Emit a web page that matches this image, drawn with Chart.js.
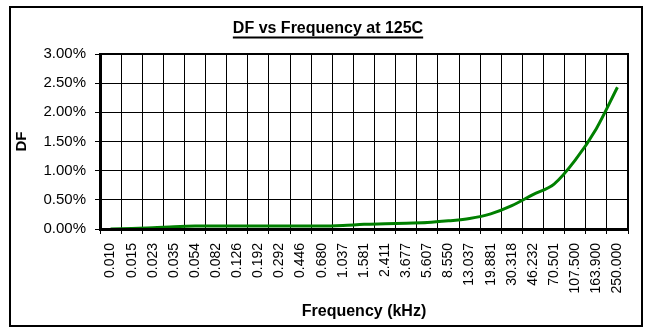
<!DOCTYPE html>
<html lang="en">
<head>
    <meta charset="UTF-8">
    <title>DF vs Frequency at 125C</title>
    <script src="https://cdn.jsdelivr.net/npm/chart.js"></script>
    <style>
        html, body { margin: 0; padding: 0; background: #fff; }
        canvas { display: block; }
    </style>
</head>
<body>
    <canvas id="grafico" width="645" height="329"></canvas>

    <script>
        // Frequency points (kHz), used as category labels
        const frequencies = ['0.010', '0.015', '0.023', '0.035', '0.054', '0.082', '0.126', '0.192',
            '0.292', '0.446', '0.680', '1.037', '1.581', '2.411', '3.677', '5.607', '8.550',
            '13.037', '19.881', '30.318', '46.232', '70.501', '107.500', '163.900', '250.000'];

        // Dissipation factor in %
        const dfValues = [0.00, 0.01, 0.02, 0.04, 0.05, 0.05, 0.05, 0.05,
            0.05, 0.05, 0.05, 0.06, 0.08, 0.09, 0.10, 0.11, 0.14,
            0.18, 0.26, 0.40, 0.59, 0.77, 1.18, 1.72, 2.43];

        // Y axis ticks (%)
        const yTickValues = [0, 0.5, 1.0, 1.5, 2.0, 2.5, 3.0];

        const chartTitle = 'DF vs Frequency at 125C';
        const fontFamily = '"Liberation Sans", Arial, sans-serif';

        Chart.defaults.color = '#000';
        Chart.defaults.font.family = fontFamily;

        // Outer frame, plot border and underlined title
        const framePlugin = {
            id: 'framePlugin',
            afterDraw(chart) {
                const ctx = chart.ctx;
                const a = chart.chartArea;
                ctx.save();
                ctx.strokeStyle = '#000';
                ctx.lineWidth = 2;
                ctx.strokeRect(a.left, a.top, a.right - a.left, a.bottom - a.top);
                ctx.strokeRect(10, 7, 632, 319);

                ctx.fillStyle = '#000';
                ctx.font = 'bold 16px ' + fontFamily;
                ctx.textAlign = 'center';
                ctx.textBaseline = 'middle';
                ctx.fillText(chartTitle, 328, 29);
                const w = ctx.measureText(chartTitle).width;
                ctx.fillRect(328 - w / 2, 36.5, w, 2);
                ctx.restore();
            }
        };

        const ctx = document.getElementById('grafico').getContext('2d');
        const chart = new Chart(ctx, {
            type: 'line',
            data: {
                labels: frequencies,
                datasets: [{
                    label: 'DF',
                    data: dfValues,
                    borderColor: '#008000',
                    borderWidth: 3,
                    pointRadius: 0,
                    fill: false,
                    cubicInterpolationMode: 'monotone'
                }]
            },
            options: {
                responsive: false,
                animation: false,
                layout: { padding: { left: 12, right: 17, top: 54, bottom: 8 } },
                plugins: {
                    legend: { display: false },
                    tooltip: { enabled: false },
                    title: { display: false }
                },
                scales: {
                    x: {
                        type: 'category',
                        offset: true,
                        grid: { offset: true, color: '#000', lineWidth: 1, tickLength: 5 },
                        border: { color: '#000', width: 3 },
                        ticks: {
                            font: { size: 14 },
                            minRotation: 90,
                            maxRotation: 90,
                            autoSkip: false,
                            padding: 9
                        },
                        title: {
                            display: true,
                            text: 'Frequency (kHz)',
                            font: { size: 16, weight: 'bold' },
                            padding: { top: 0, bottom: 0 }
                        },
                        afterFit: s => { s.height = 92; }
                    },
                    y: {
                        min: 0,
                        max: 3,
                        afterBuildTicks: s => { s.ticks = yTickValues.map(v => ({ value: v })); },
                        grid: { color: '#000', lineWidth: 1, tickLength: 5 },
                        border: { color: '#000', width: 3 },
                        ticks: {
                            font: { size: 15 },
                            padding: 9,
                            callback: v => v.toFixed(2) + '%'
                        },
                        title: {
                            display: true,
                            text: 'DF',
                            font: { size: 15, weight: 'bold' },
                            padding: { top: 1, bottom: 0 }
                        },
                        afterFit: s => { s.width = 88; }
                    }
                }
            },
            plugins: [framePlugin]
        });
    </script>
</body>
</html>
